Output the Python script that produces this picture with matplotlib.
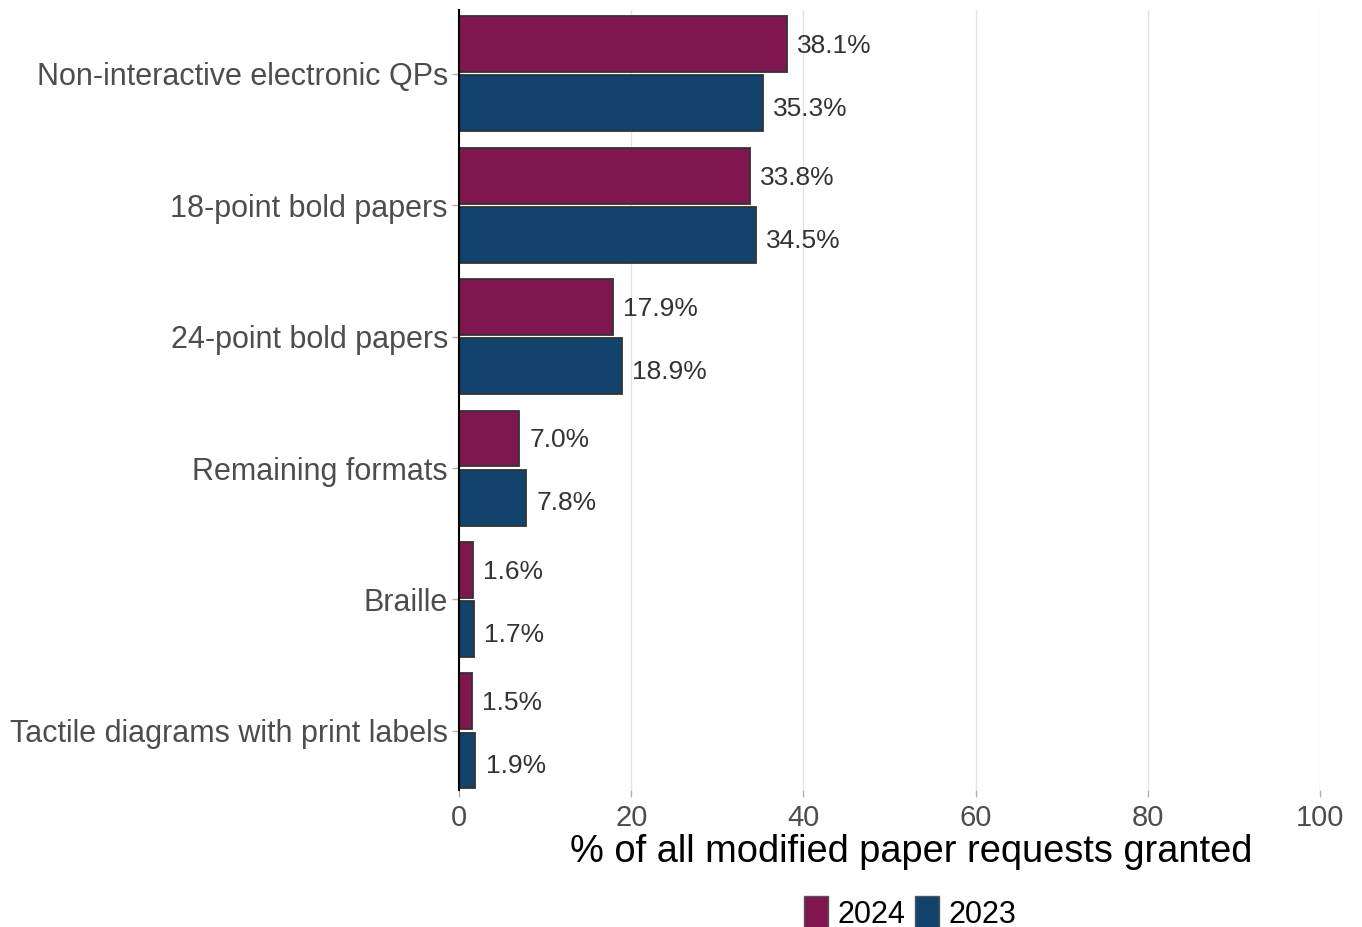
import matplotlib
matplotlib.use("Agg")
import matplotlib.pyplot as plt
from matplotlib.patches import Patch
import numpy as np

plt.rcParams['font.family'] = ['Liberation Sans', 'DejaVu Sans']

categories = ["Non-interactive electronic QPs", "18-point bold papers", "24-point bold papers",
              "Remaining formats", "Braille", "Tactile diagrams with print labels"]
values_2024 = [38.1, 33.8, 17.9, 7.0, 1.6, 1.5]
values_2023 = [35.3, 34.5, 18.9, 7.8, 1.7, 1.9]
series_names = ["2024", "2023"]
colors = ["#801650", "#12436D"]
xticks = [0, 20, 40, 60, 80, 100]

W, H = 1362, 927
fig = plt.figure(figsize=(W/100, H/100), dpi=100)
ax = fig.add_axes([459/W, 1-790/H, (1320-459)/W, (790-10)/H])

y = np.arange(len(categories))
off = 0.225
h = 0.425
for vals, o, c, lo in [(values_2024, -off, colors[0], 0.015), (values_2023, off, colors[1], 0.045)]:
    bars = ax.barh(y + o, vals, height=h, color=c, edgecolor="#333333", linewidth=1.3, zorder=3)
    for b, v in zip(bars, vals):
        ax.text(v + 1.2, b.get_y() + b.get_height()/2 + lo, f"{v:.1f}%", va="center", ha="left",
                fontsize=19, color="#333333")

ax.set_ylim(5.45, -0.485)
ax.set_xlim(0, 100)
ax.set_yticks(y)
ax.set_yticklabels(categories, fontsize=22, color="#4D4D4D")
ax.set_xticks(xticks)
ax.set_xticklabels([str(t) for t in xticks], fontsize=21, color="#4D4D4D")
ax.tick_params(axis='both', length=5, color="#B0B0B0", width=1)
ax.tick_params(axis='x', pad=5)
ax.tick_params(axis='y', pad=3)
ax.grid(axis='x', color="#E3E3E3", linewidth=1, zorder=0)
ax.set_axisbelow(True)
for s in ["top", "right", "bottom"]:
    ax.spines[s].set_visible(False)
ax.spines["left"].set_color("black")
ax.spines["left"].set_linewidth(1.5)
ax.spines["left"].set_zorder(4)

fig.text(911/W, 1-852/H, "% of all modified paper requests granted", ha="center", va="center",
         fontsize=27.4, color="black")

handles = [Patch(facecolor=colors[0], edgecolor="#555555", label=series_names[0]),
           Patch(facecolor=colors[1], edgecolor="#555555", label=series_names[1])]
fig.legend(handles=handles, loc="center", bbox_to_anchor=(910/W, 1-913/H), ncol=2, frameon=False,
           fontsize=22, handlelength=0.8, handleheight=1.25, handletextpad=0.3, columnspacing=0.3)

fig.savefig("out.png", dpi=100)
